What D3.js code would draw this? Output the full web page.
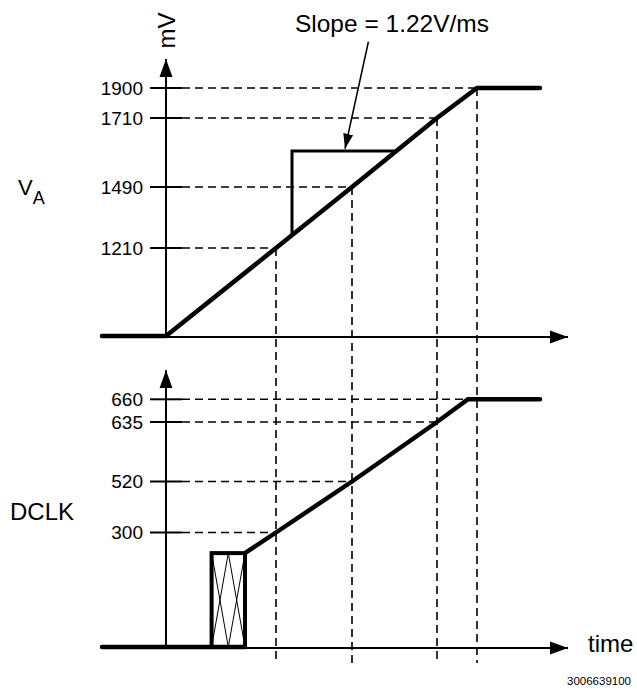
<!DOCTYPE html>
<html>
<head>
<meta charset="utf-8">
<script src="https://cdn.jsdelivr.net/npm/d3@7"></script>
<style>
  html, body { margin: 0; padding: 0; background: #fff; }
  svg { display: block; }
  text { font-family: 'Liberation Sans', Arial, sans-serif; fill: #000; }
  .thick { fill: none; stroke: #000; stroke-width: 4.5; stroke-linecap: round; }
  .axis-line { fill: none; stroke: #000; stroke-width: 2; }
  .guide { fill: none; stroke: #000; stroke-width: 1.6; stroke-dasharray: 8,5; }
  .tick { stroke: #000; stroke-width: 2; }
  .tick-label { font-size: 19px; text-anchor: end; }
</style>
</head>
<body>
<div id="chart"></div>
<script>
// time (arbitrary units) where the ramps cross each level
var tMarks = [27.5, 46.5, 67.75, 77.75];

// V_A panel (mV)
var vaTicks = [1210, 1490, 1710, 1900];
var vaRampT = [-16, 0, 27.5, 46.5, 67.75, 77.75, 93.5];
var vaRampV = [0, 0, 1210, 1490, 1710, 1900, 1900];
var slopeT = [31.5, 31.5, 57.75];
var slopeV = [1269, 1605, 1605];
var slopeLabel = 'Slope = 1.22V/ms';

// DCLK panel
var dclkTicks = [300, 520, 635, 660];
var dclkTickEnds = [27.5, 46.5, 67.75, 75.5];
var dclkBaseT = [-16, 19.75];
var dclkRampT = [19.75, 27.5, 46.5, 67.75, 75.5, 93.5];
var dclkRampV = [246, 300, 520, 635, 660, 660];
var boxT = [11.4, 19.75];
var boxV = [0, 246];

var width = 637;
var height = 690;

var svg = d3.select('#chart').append('svg')
  .attr('width', width)
  .attr('height', height);

var x = d3.scaleLinear().domain([-16, 100.5]).range([102, 568]);
// the drawing is schematic: level spacing is not linear, so use a polylinear scale
var yVa = d3.scaleLinear().domain([0].concat(vaTicks)).range([336, 248, 187, 118, 88]);
var yDc = d3.scaleLinear().domain([0].concat(dclkTicks)).range([647, 532.5, 481.5, 422, 399.3]);

var defs = svg.append('defs');
defs.append('marker')
  .attr('id', 'axis-arrow')
  .attr('markerUnits', 'userSpaceOnUse')
  .attr('markerWidth', 20)
  .attr('markerHeight', 14)
  .attr('viewBox', '0 -7 20 14')
  .attr('refX', 18)
  .attr('refY', 0)
  .attr('orient', 'auto')
  .append('path')
  .attr('d', 'M0,-6.5L18,0L0,6.5Z')
  .attr('fill', '#000');
defs.append('marker')
  .attr('id', 'note-arrow')
  .attr('markerUnits', 'userSpaceOnUse')
  .attr('markerWidth', 16)
  .attr('markerHeight', 12)
  .attr('viewBox', '0 -6 16 12')
  .attr('refX', 15)
  .attr('refY', 0)
  .attr('orient', 'auto')
  .append('path')
  .attr('d', 'M0,-5L15,0L0,5Z')
  .attr('fill', '#000');

var line = d3.line();

function zip(ts, vs, y) {
  return ts.map(function (t, i) {
    return [x(t), y(vs[i])];
  });
}

// dashed guides: vertical ones run from the V_A ramp down through DCLK
svg.append('g')
  .selectAll('line')
  .data(tMarks)
  .enter()
  .append('line')
  .attr('class', 'guide')
  .attr('x1', function (d) { return x(d); })
  .attr('x2', function (d) { return x(d); })
  .attr('y1', function (d, i) { return yVa(vaTicks[i]); })
  .attr('y2', yDc(-42));

function levels(g, ticks, ends, y) {
  g.selectAll('.guide-h')
    .data(ticks)
    .enter()
    .append('line')
    .attr('class', 'guide')
    .attr('x1', x(4))
    .attr('x2', function (d, i) { return x(ends[i]); })
    .attr('y1', function (d) { return y(d); })
    .attr('y2', function (d) { return y(d); });

  g.selectAll('.tick')
    .data(ticks)
    .enter()
    .append('line')
    .attr('class', 'tick')
    .attr('x1', x(-4))
    .attr('x2', x(4))
    .attr('y1', function (d) { return y(d); })
    .attr('y2', function (d) { return y(d); });

  g.selectAll('.tick-label')
    .data(ticks)
    .enter()
    .append('text')
    .attr('class', 'tick-label')
    .attr('x', x(-5.75))
    .attr('y', function (d) { return y(d); })
    .attr('dy', '0.35em')
    .text(function (d) { return d; });
}

var vaPanel = svg.append('g');
levels(vaPanel, vaTicks, tMarks, yVa);

var dcPanel = svg.append('g');
levels(dcPanel, dclkTicks, dclkTickEnds, yDc);

// axes
vaPanel.append('line')
  .attr('class', 'axis-line')
  .attr('x1', x(0)).attr('x2', x(0))
  .attr('y1', yVa(0)).attr('y2', yVa(2084))
  .attr('marker-end', 'url(#axis-arrow)');
vaPanel.append('line')
  .attr('class', 'axis-line')
  .attr('x1', x(0)).attr('x2', x(100.5))
  .attr('y1', yVa(0) + 1).attr('y2', yVa(0) + 1)
  .attr('marker-end', 'url(#axis-arrow)');

dcPanel.append('line')
  .attr('class', 'axis-line')
  .attr('x1', x(0)).attr('x2', x(0))
  .attr('y1', yDc(0)).attr('y2', yDc(692))
  .attr('marker-end', 'url(#axis-arrow)');
dcPanel.append('line')
  .attr('class', 'axis-line')
  .attr('x1', x(dclkBaseT[1])).attr('x2', x(100.5))
  .attr('y1', yDc(0) + 1).attr('y2', yDc(0) + 1)
  .attr('marker-end', 'url(#axis-arrow)');

// V_A ramp and slope triangle
vaPanel.append('path')
  .attr('class', 'thick')
  .attr('d', line(zip(vaRampT, vaRampV, yVa)));

vaPanel.append('path')
  .attr('fill', 'none')
  .attr('stroke', '#000')
  .attr('stroke-width', 3)
  .attr('d', line(zip(slopeT, slopeV, yVa)));

vaPanel.append('line')
  .attr('stroke', '#000')
  .attr('stroke-width', 1.5)
  .attr('x1', x(50.6)).attr('y1', yVa(2193))
  .attr('x2', x(44.75)).attr('y2', yVa(1612))
  .attr('marker-end', 'url(#note-arrow)');

vaPanel.append('text')
  .attr('x', x(56.5))
  .attr('y', yVa(2255))
  .attr('text-anchor', 'middle')
  .style('font-size', '24.5px')
  .text(slopeLabel);

// DCLK: baseline, uncertain-state box, ramp
dcPanel.append('path')
  .attr('class', 'thick')
  .attr('d', line([[x(dclkBaseT[0]), yDc(0)], [x(dclkBaseT[1]), yDc(0)]]));

var bx0 = x(boxT[0]);
var bx1 = x(boxT[1]);
var bxm = (bx0 + bx1) / 2;
var byTop = yDc(boxV[1]);
var byBot = yDc(boxV[0]);

dcPanel.append('g')
  .selectAll('line')
  .data([[bx0, byTop, bxm, byBot], [bx1, byTop, bxm, byBot], [bxm, byTop, bx0, byBot], [bxm, byTop, bx1, byBot]])
  .enter()
  .append('line')
  .attr('stroke', '#000')
  .attr('stroke-width', 1)
  .attr('x1', function (d) { return d[0]; })
  .attr('y1', function (d) { return d[1]; })
  .attr('x2', function (d) { return d[2]; })
  .attr('y2', function (d) { return d[3]; });

dcPanel.append('rect')
  .attr('x', bx0)
  .attr('y', byTop)
  .attr('width', bx1 - bx0)
  .attr('height', byBot - byTop)
  .attr('fill', 'none')
  .attr('stroke', '#000')
  .attr('stroke-width', 4);

dcPanel.append('path')
  .attr('class', 'thick')
  .attr('d', line(zip(dclkRampT, dclkRampV, yDc)));

// labels
svg.append('text')
  .attr('transform', 'translate(' + (x(0) + 9) + ',30.5) rotate(-90)')
  .attr('text-anchor', 'middle')
  .style('font-size', '24px')
  .text('mV');

var va = svg.append('text')
  .attr('x', 18)
  .attr('y', 195)
  .style('font-size', '22px');
va.append('tspan').text('V');
va.append('tspan')
  .attr('dy', 9)
  .style('font-size', '18px')
  .text('A');

svg.append('text')
  .attr('x', 10)
  .attr('y', 519.5)
  .style('font-size', '24px')
  .text('DCLK');

svg.append('text')
  .attr('x', 588)
  .attr('y', 652)
  .style('font-size', '24px')
  .text('time');

svg.append('text')
  .attr('x', 631)
  .attr('y', 685)
  .attr('text-anchor', 'end')
  .style('font-size', '11.5px')
  .text('3006639100');
</script>
</body>
</html>
